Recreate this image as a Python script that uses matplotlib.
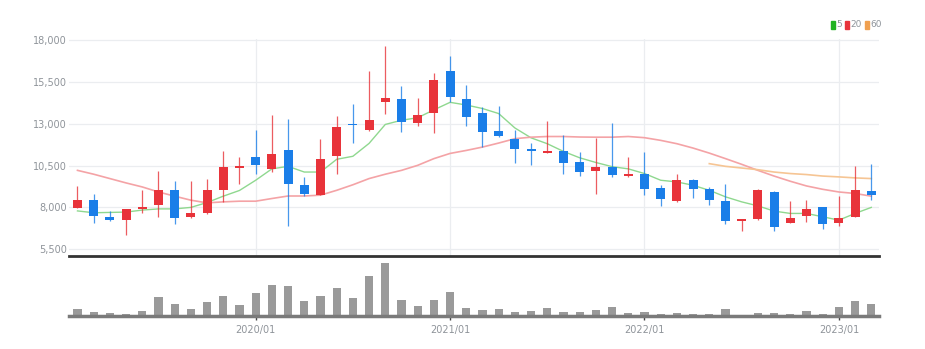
import matplotlib
matplotlib.use("Agg")
import matplotlib.pyplot as plt
import matplotlib.patches as mpatches
import numpy as np
import pandas as pd

# monthly candles, 2019/02 .. 2023/03
months = pd.period_range("2019-02", periods=50, freq="M")

opens = [7970, 8430, 7400, 7240, 7880, 8130, 9020, 7400, 7640, 9020,
         10370, 10990, 10270, 11440, 9360, 8750, 11060, 12990, 12630, 14260,
         14450, 13020, 13620, 16160, 14480, 13650, 12550, 12100, 11480, 11240,
         11360, 10730, 10150, 10390, 9900, 9990, 9160, 8390, 9660, 9080,
         8370, 7180, 7320, 8910, 7080, 7480, 8010, 7080, 7440, 8980]
closes = [8430, 7480, 7220, 7900, 8000, 9020, 7380, 7640, 9020, 10390,
          10450, 10550, 11180, 9400, 8770, 10870, 12790, 12890, 13190, 14550,
          13110, 13540, 15600, 14570, 13420, 12480, 12290, 11500, 11380, 11380,
          10650, 10110, 10390, 9920, 10020, 9070, 8530, 9660, 9100, 8430,
          7160, 7280, 9010, 6810, 7340, 7880, 7000, 7380, 9020, 8710]
highs = [9280, 8790, 7790, 7920, 9020, 10150, 9560, 9600, 9700, 11340,
         11030, 12630, 13500, 13260, 9820, 12060, 13470, 14170, 16160, 17640,
         15220, 14550, 16000, 17030, 15310, 13980, 14080, 12630, 11860, 13140,
         12340, 11300, 12160, 13020, 11000, 11300, 9360, 10020, 9720, 9220,
         9380, 7300, 9070, 8980, 8410, 8430, 8030, 8670, 10450, 10610]
lows = [7950, 7050, 7180, 6350, 7640, 7400, 7000, 7360, 7600, 8330,
        9380, 10020, 10090, 6900, 8690, 8750, 9990, 11850, 12550, 13580,
        12510, 12830, 12450, 14270, 12830, 11600, 12190, 10670, 10550, 11240,
        9980, 9870, 8770, 9840, 9820, 8730, 8090, 8330, 8570, 8130,
        7000, 6600, 7240, 6600, 7050, 7140, 6690, 6890, 7400, 8470]

ma5 = [7790, 7680, 7700, 7720, 7840, 7910, 7910, 8000, 8290, 8670,
       9010, 9620, 10300, 10450, 10110, 10110, 10870, 11050, 11820, 12950,
       13200, 13350, 13820, 14270, 14110, 13900, 13600, 12740, 12150, 11800,
       11340, 10960, 10680, 10430, 10300, 10020, 9620, 9520, 9320, 9020,
       8630, 8330, 8090, 7780, 7640, 7640, 7440, 7240, 7640, 8000]
ma20 = [10210, 9980, 9720, 9460, 9220, 8920, 8670, 8430, 8270, 8330,
        8370, 8370, 8530, 8680, 8680, 8730, 9020, 9350, 9720, 9980,
        10210, 10510, 10910, 11220, 11400, 11600, 11840, 12100, 12190, 12230,
        12230, 12200, 12190, 12190, 12230, 12160, 12000, 11800, 11540, 11240,
        10910, 10570, 10210, 9870, 9560, 9280, 9080, 8920, 8830, 8670]
ma60_start = 39
ma60 = [10610, 10450, 10350, 10250, 10110, 10020, 9960, 9870, 9820, 9760, 9720]

volumes = [76, 40, 30, 26, 53, 196, 120, 76, 140, 206,
           110, 236, 316, 303, 156, 206, 280, 186, 400, 530,
           166, 103, 166, 246, 86, 60, 73, 43, 56, 86,
           46, 40, 60, 93, 30, 46, 20, 30, 23, 23,
           76, 13, 30, 30, 23, 56, 26, 93, 153, 123]

yticks = [5500, 8000, 10500, 13000, 15500, 18000]

UP = "#e8333a"
DOWN = "#1a7ee8"
GRID = "#ebedf0"
TXT = "#8f949a"
FONT = ["Liberation Sans Narrow", "DejaVu Sans"]

x = np.arange(len(months))
o = np.array(opens)
c = np.array(closes)
up = c >= o
colors = np.where(up, UP, DOWN)
body_bot = np.minimum(o, c)
body_h = np.maximum(np.abs(c - o), 70)

fig = plt.figure(figsize=(9.25, 3.49), dpi=100)
ax = fig.add_axes([0.075, 0.2665, 0.8757, 0.6218])
axv = fig.add_axes([0.075, 0.0937, 0.8757, 0.167])

# price panel
ax.vlines(x, lows, highs, colors=colors, linewidth=0.9, alpha=0.8, zorder=3)
ax.bar(x, body_h, bottom=body_bot, width=0.55, color=colors, zorder=4)
ax.plot(x, ma5, color="#8fd88f", linewidth=1.0, zorder=2)
ax.plot(x, ma20, color="#f4a3a6", linewidth=1.2, zorder=2)
ax.plot(x[ma60_start:ma60_start + len(ma60)], ma60, color="#f6c594",
        linewidth=1.2, zorder=2)

jan = [i for i, m in enumerate(months) if m.month == 1]
ax.set_xlim(-0.5, len(months) - 0.5)
ax.set_ylim(5100, 18050)
ax.set_yticks(yticks)
ax.set_yticklabels([f"{v:,}" for v in yticks], family=FONT, fontsize=7,
                   color=TXT)
ax.set_xticks(jan)
ax.tick_params(axis="x", length=0, labelbottom=False)
ax.tick_params(axis="y", length=0, pad=2)
ax.grid(True, color=GRID, linewidth=0.9, zorder=0)
for s in ["top", "right", "left"]:
    ax.spines[s].set_visible(False)
ax.spines["bottom"].set_color("#333333")
ax.spines["bottom"].set_linewidth(2.0)

# volume panel
axv.bar(x, volumes, width=0.5, color="#9a9a9a", zorder=2)
axv.set_xlim(-0.5, len(months) - 0.5)
axv.set_ylim(0, 585)
axv.set_yticks([])
axv.set_xticks(jan)
axv.set_xticklabels([m.strftime("%Y/%m") for m in months[jan]], family=FONT,
                    fontsize=7, color=TXT)
axv.tick_params(axis="x", length=3, width=1, color="#444444", pad=3)
for s in ["top", "right", "left"]:
    axv.spines[s].set_visible(False)
axv.spines["bottom"].set_color("#7a7a7a")
axv.spines["bottom"].set_linewidth(2.5)

# legend, top right
items = [("5", "#22b322", 831), ("20", "#e8333a", 845), ("60", "#f0a050", 865)]
for lab, col, lx in items:
    fig.patches.append(mpatches.Rectangle(
        (lx / 925, 1 - 28.7 / 349), 4 / 925, 8 / 349,
        transform=fig.transFigure, color=col, figure=fig))
    fig.text((lx + 5.5) / 925, 1 - 24.7 / 349, lab, family=FONT, fontsize=6.5,
             color=TXT, va="center", ha="left")

fig.savefig("out.png", dpi=100)
